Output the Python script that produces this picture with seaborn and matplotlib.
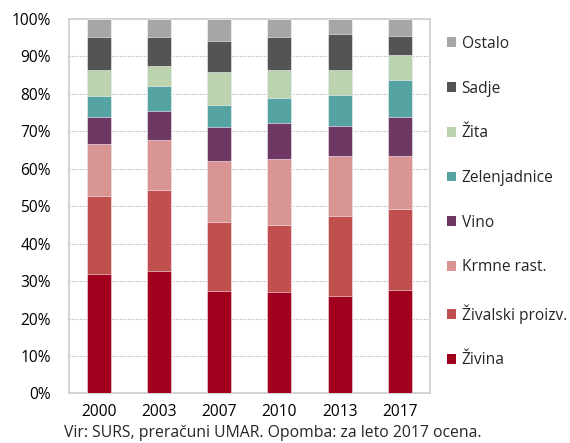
import matplotlib
matplotlib.use("Agg")
import matplotlib.pyplot as plt
import seaborn as sns
import numpy as np
import pandas as pd
from matplotlib.patches import Patch

# Structure of agricultural output (shares in %), bottom to top
years = ["2000", "2003", "2007", "2010", "2013", "2017"]
zivina = [32.0, 32.7, 27.4, 27.0, 26.0, 27.6]
zivalski = [20.7, 21.6, 18.4, 18.1, 21.4, 21.7]
krmne = [13.8, 13.4, 16.2, 17.4, 15.9, 14.1]
vino = [7.4, 7.8, 9.2, 9.8, 8.1, 10.3]
zelenjadnice = [5.5, 6.5, 5.8, 6.5, 8.2, 10.1]
zita = [6.9, 5.5, 8.8, 7.5, 6.8, 6.5]
sadje = [9.0, 7.8, 8.4, 8.8, 9.7, 5.2]
ostalo = [4.7, 4.7, 5.8, 4.9, 3.9, 4.5]

series_names = ["Živina", "Živalski proizv.", "Krmne rast.", "Vino",
                "Zelenjadnice", "Žita", "Sadje", "Ostalo"]
series_values = [zivina, zivalski, krmne, vino, zelenjadnice, zita, sadje, ostalo]
colors = ["#A0001E", "#C0504D", "#D99594", "#6F3763",
          "#55A3A3", "#BBD3AF", "#545454", "#A6A6A6"]

caption = "Vir: SURS, preračuni UMAR. Opomba: za leto 2017 ocena."

sns.set_theme(style="white")
plt.rcParams["font.family"] = ["Open Sans", "DejaVu Sans"]

# cumulative tops of each stacked segment
df = pd.DataFrame(dict(zip(series_names, series_values)), index=years)
cum = df.cumsum(axis=1)

fig = plt.figure(figsize=(5.70, 4.43), dpi=100)
ax = fig.add_axes([0.121, 0.112, 0.633, 0.845])

# draw from the tallest cumulative bar down so each segment shows
for name, col in reversed(list(zip(series_names, colors))):
    d = pd.DataFrame({"year": years, "value": cum[name].values})
    sns.barplot(data=d, x="year", y="value", order=years, color=col,
                width=0.4, ax=ax, edgecolor=(1, 1, 1, 0.55), linewidth=0.7,
                saturation=1, zorder=3)

ax.set_xlim(-0.5, 5.5)
ax.set_ylim(0, 100)
ax.set_yticks(np.arange(0, 101, 10))
ax.set_yticklabels([f"{v}%" for v in range(0, 101, 10)])
ax.set_xlabel("")
ax.set_ylabel("")
ax.yaxis.grid(True, color="#BDBDBD", linestyle=(0, (1.2, 1.2)), linewidth=0.8, zorder=0)
ax.xaxis.grid(False)
ax.set_axisbelow(True)
for s in ax.spines.values():
    s.set_color("#D0D0D0")
    s.set_linewidth(1.3)
ax.tick_params(axis="both", length=0, labelsize=11.2, colors="#000000")
ax.tick_params(axis="y", pad=13)
ax.tick_params(axis="x", pad=8)

handles = [Patch(facecolor=c, edgecolor="none") for c in reversed(colors)]
leg = fig.legend(handles, list(reversed(series_names)), loc="upper left",
                 bbox_to_anchor=(0.773, 0.933), frameon=False, fontsize=11.2,
                 handlelength=0.6, handleheight=0.6, handletextpad=0.35,
                 labelspacing=1.845, borderaxespad=0)

fig.text(0.479, 0.0226, caption, ha="center", va="center", fontsize=11.3)

fig.savefig("out.png", dpi=100)
